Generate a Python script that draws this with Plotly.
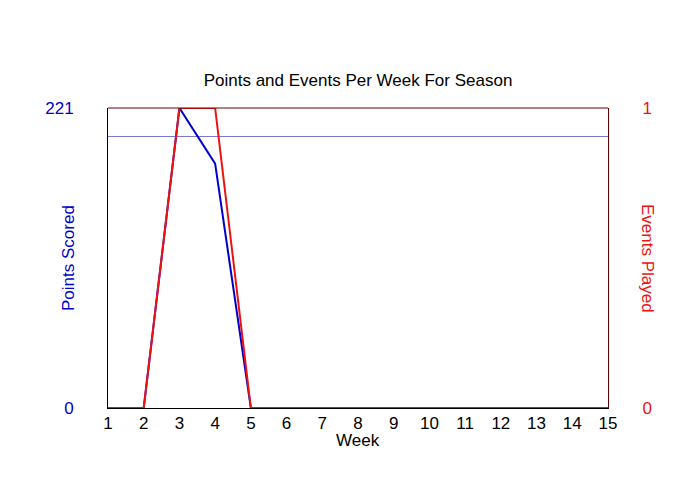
import plotly.graph_objects as go

weeks = list(range(1, 16))
points = [0, 0, 221, 180, 0, 0, 0, 0, 0, 0, 0, 0, 0, 0, 0]
events = [0, 0, 1, 1, 0, 0, 0, 0, 0, 0, 0, 0, 0, 0, 0]
ref_level = 200

F = "Liberation Sans, Arial, sans-serif"
fig = go.Figure()
fig.add_trace(go.Scatter(x=[1, 15], y=[ref_level, ref_level], mode="lines",
                         line=dict(color="#7777dd", width=1), hoverinfo="skip"))
fig.add_trace(go.Scatter(x=weeks, y=events, mode="lines", yaxis="y2",
                         line=dict(color="#ee1111", width=2)))
fig.add_trace(go.Scatter(x=weeks, y=points, mode="lines",
                         line=dict(color="#0000cc", width=2)))
fig.update_layout(
    width=700, height=500, showlegend=False,
    plot_bgcolor="white", paper_bgcolor="white",
    margin=dict(l=100, r=100, t=100, b=100, autoexpand=False),
    font=dict(family=F, size=17, color="black"),
    title=dict(text="Points and Events Per Week For Season", x=0.5, y=0.855,
               xanchor="center", yanchor="middle", font=dict(size=17, color="black")),
    xaxis=dict(range=[1, 15], tickvals=weeks, showgrid=False, zeroline=False,
               showline=True, linecolor="black", ticks="", automargin=False,
               tickfont=dict(size=17)),
    yaxis=dict(range=[0, 221], tickvals=[0, 221], showgrid=False, zeroline=False,
               showline=True, linecolor="black", ticks="outside", ticklen=30,
               tickcolor="white", tickfont=dict(color="#0000cc"), automargin=False),
    yaxis2=dict(range=[0, 1], tickvals=[0, 1], overlaying="y", side="right",
                showgrid=False, zeroline=False, showline=True, linecolor="#660000",
                ticks="outside", ticklen=30, tickcolor="white", automargin=False,
                tickfont=dict(color="#ee1111")),
    shapes=[dict(type="line", xref="paper", yref="paper", x0=0, x1=1, y0=1, y1=1,
                 line=dict(color="#660000", width=1))],
    annotations=[
        dict(text="Week", xref="paper", yref="paper", x=0.5, y=-0.107, showarrow=False,
             xanchor="center", yanchor="middle", font=dict(size=17, color="black")),
        dict(text="Points Scored", xref="paper", yref="paper", x=-0.08, y=0.5,
             textangle=-90, showarrow=False, xanchor="center", yanchor="middle",
             font=dict(size=17, color="#0000cc")),
        dict(text="Events Played", xref="paper", yref="paper", x=1.08, y=0.5,
             textangle=90, showarrow=False, xanchor="center", yanchor="middle",
             font=dict(size=17, color="#ee1111")),
    ],
)
fig.write_html("out.html")
